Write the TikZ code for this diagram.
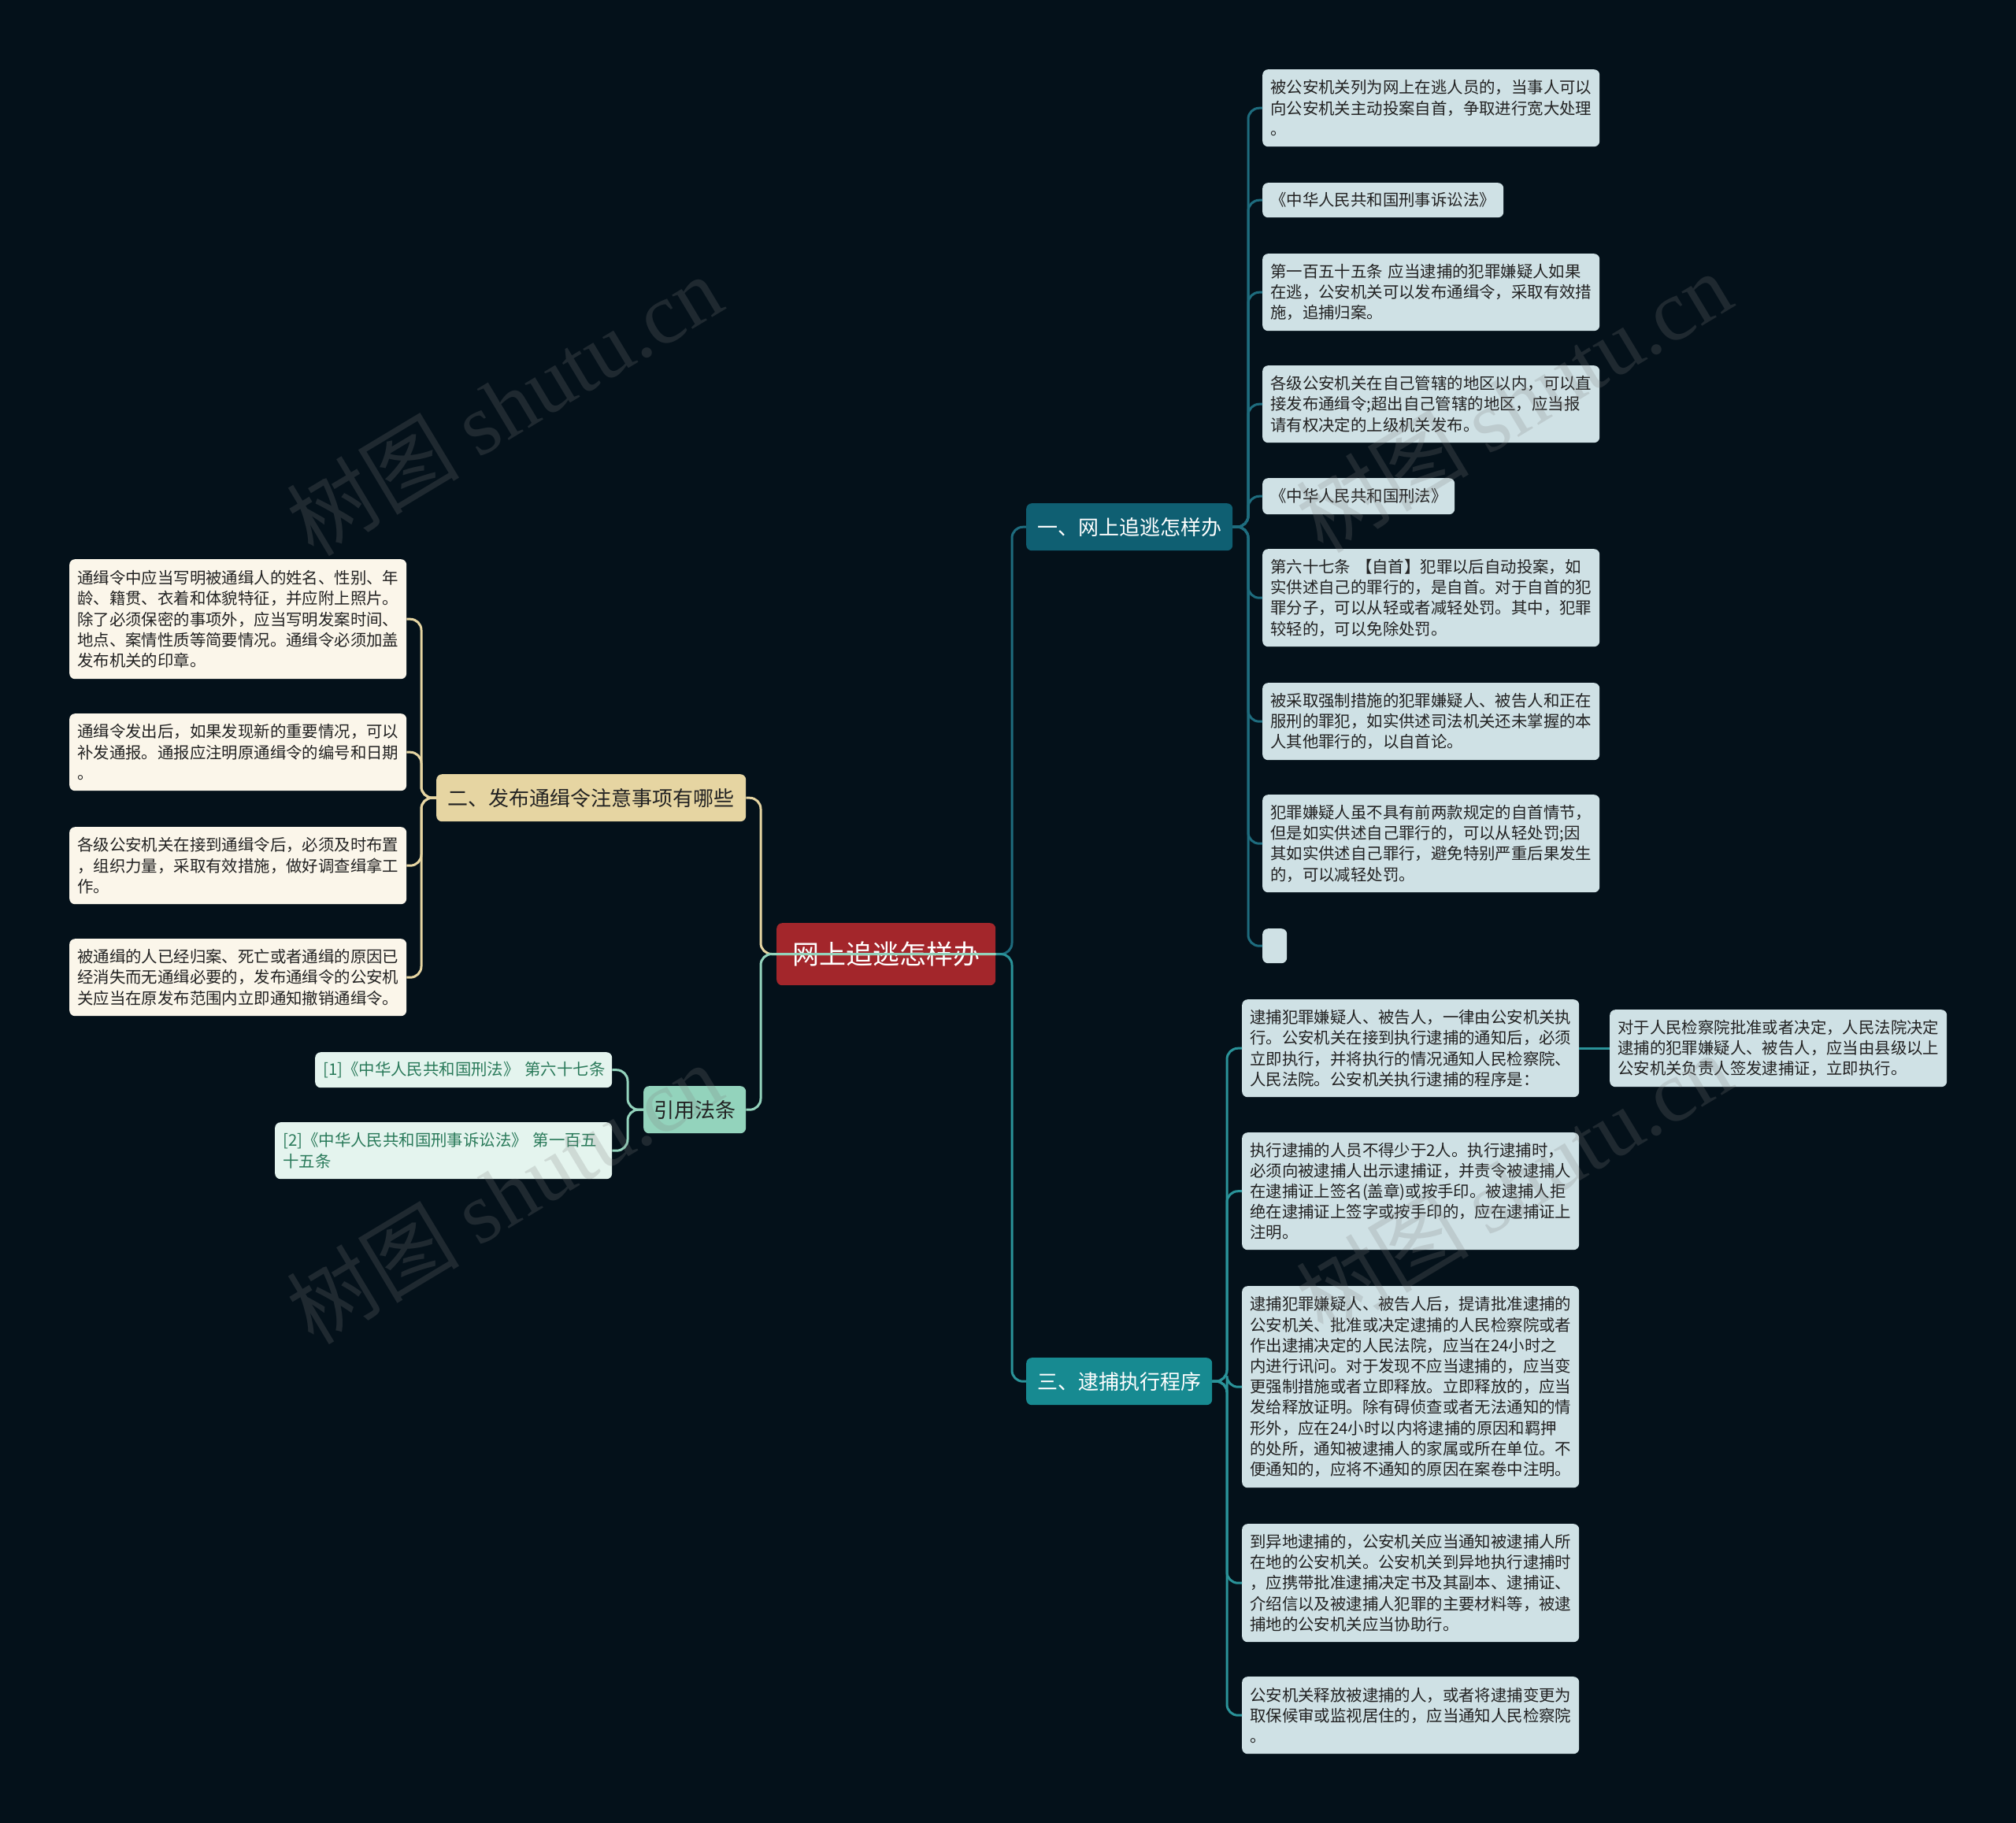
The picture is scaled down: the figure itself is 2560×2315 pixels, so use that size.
\documentclass[tikz,border=0pt]{standalone}
\usepackage{fontspec}
\setmainfont{Noto Sans CJK SC}
\newfontfamily\wmserif{Liberation Serif}
\definecolor{bg}{HTML}{04111A}
\definecolor{rootred}{HTML}{A3262B}
\definecolor{tealA}{HTML}{0F5F72}
\definecolor{tealAline}{HTML}{1E6C7E}
\definecolor{tealB}{HTML}{178A91}
\definecolor{tealBline}{HTML}{2A9399}
\definecolor{leafblue}{HTML}{CFE1E5}
\definecolor{tan}{HTML}{E6D5A2}
\definecolor{cream}{HTML}{FBF6EA}
\definecolor{mint}{HTML}{93D3BC}
\definecolor{mintleaf}{HTML}{E4F4EE}
\definecolor{minttext}{HTML}{2A7A5A}
\definecolor{darktext}{HTML}{222222}
\tikzset{
  box/.style={anchor=north west, rounded corners=7pt, inner ysep=0pt},
  leaf/.style={box, inner xsep=10pt, align=left, text=darktext,
    font=\fontsize{20.4}{26.2}\selectfont},
  leafR/.style={leaf, fill=leafblue},
  leafL/.style={leaf, fill=cream},
  leafM/.style={leaf, fill=mintleaf, text=minttext},
  branch/.style={box, inner xsep=0pt, font=\fontsize{26}{30}\selectfont, minimum height=60pt},
  con/.style={line width=3pt, rounded corners=14pt},
  wm/.style={font=\fontsize{110}{120}\selectfont, text=white!50!black, text opacity=0.22, rotate=31}
}
\begin{document}
\begin{tikzpicture}[x=1pt,y=-1pt]
\useasboundingbox (0,0) rectangle (2560,2315);
\fill[bg] (0,0) rectangle (2560,2315);

% root
\node[box, fill=rootred, text=white, font=\fontsize{34}{40}\selectfont, minimum width=278pt, minimum height=79pt, inner xsep=0pt] (root) at (986,1172) {网上追逃怎样办};

% branches
\node[branch, fill=tealA, text=white, minimum width=262pt] (B1) at (1303,639) {一、网上追逃怎样办};
\node[branch, fill=tealB, text=white, minimum width=236pt] (B3) at (1303,1724) {三、逮捕执行程序};
\node[branch, fill=tan, text=darktext, minimum width=393pt] (B2) at (554,983) {二、发布通缉令注意事项有哪些};
\node[branch, fill=mint, text=darktext, minimum width=130pt] (B4) at (817,1379) {引用法条};

% leaves of B1
\node[leafR, text width=408pt, minimum height=98pt] (L1) at (1603,88) {被公安机关列为网上在逃人员的，当事人可以\\向公安机关主动投案自首，争取进行宽大处理\\。};
\node[leafR, text width=286pt, minimum height=44pt] (L2) at (1603,232) {《中华人民共和国刑事诉讼法》};
\node[leafR, text width=408pt, minimum height=98pt] (L3) at (1603,322) {第一百五十五条~应当逮捕的犯罪嫌疑人如果\\在逃，公安机关可以发布通缉令，采取有效措\\施，追捕归案。};
\node[leafR, text width=408pt, minimum height=98pt] (L4) at (1603,464) {各级公安机关在自己管辖的地区以内，可以直\\接发布通缉令;超出自己管辖的地区，应当报\\请有权决定的上级机关发布。};
\node[leafR, text width=224pt, minimum height=46pt] (L5) at (1603,607) {《中华人民共和国刑法》};
\node[leafR, text width=408pt, minimum height=124pt] (L6) at (1603,697) {第六十七条~【自首】犯罪以后自动投案，如\\实供述自己的罪行的，是自首。对于自首的犯\\罪分子，可以从轻或者减轻处罚。其中，犯罪\\较轻的，可以免除处罚。};
\node[leafR, text width=408pt, minimum height=98pt] (L7) at (1603,867) {被采取强制措施的犯罪嫌疑人、被告人和正在\\服刑的罪犯，如实供述司法机关还未掌握的本\\人其他罪行的，以自首论。};
\node[leafR, text width=408pt, minimum height=124pt] (L8) at (1603,1009) {犯罪嫌疑人虽不具有前两款规定的自首情节，\\但是如实供述自己罪行的，可以从轻处罚;因\\其如实供述自己罪行，避免特别严重后果发生\\的，可以减轻处罚。};
\node[leafR, text width=11pt, minimum height=44pt] (L9) at (1603,1179) {};

% leaves of B3
\node[leafR, text width=408pt, minimum height=124pt] (T1) at (1577,1269) {逮捕犯罪嫌疑人、被告人，一律由公安机关执\\行。公安机关在接到执行逮捕的通知后，必须\\立即执行，并将执行的情况通知人民检察院、\\人民法院。公安机关执行逮捕的程序是：};
\node[leafR, text width=408pt, minimum height=98pt] (S1) at (2044,1282) {对于人民检察院批准或者决定，人民法院决定\\逮捕的犯罪嫌疑人、被告人，应当由县级以上\\公安机关负责人签发逮捕证，立即执行。};
\node[leafR, text width=408pt, minimum height=149pt] (T2) at (1577,1438) {执行逮捕的人员不得少于2人。执行逮捕时，\\必须向被逮捕人出示逮捕证，并责令被逮捕人\\在逮捕证上签名(盖章)或按手印。被逮捕人拒\\绝在逮捕证上签字或按手印的，应在逮捕证上\\注明。};
\node[leafR, text width=408pt, minimum height=256pt] (T3) at (1577,1633) {逮捕犯罪嫌疑人、被告人后，提请批准逮捕的\\公安机关、批准或决定逮捕的人民检察院或者\\作出逮捕决定的人民法院，应当在24小时之\\内进行讯问。对于发现不应当逮捕的，应当变\\更强制措施或者立即释放。立即释放的，应当\\发给释放证明。除有碍侦查或者无法通知的情\\形外，应在24小时以内将逮捕的原因和羁押\\的处所，通知被逮捕人的家属或所在单位。不\\便通知的，应将不通知的原因在案卷中注明。};
\node[leafR, text width=408pt, minimum height=150pt] (T4) at (1577,1935) {到异地逮捕的，公安机关应当通知被逮捕人所\\在地的公安机关。公安机关到异地执行逮捕时\\，应携带批准逮捕决定书及其副本、逮捕证、\\介绍信以及被逮捕人犯罪的主要材料等，被逮\\捕地的公安机关应当协助行。};
\node[leafR, text width=408pt, minimum height=98pt] (T5) at (1577,2129) {公安机关释放被逮捕的人，或者将逮捕变更为\\取保候审或监视居住的，应当通知人民检察院\\。};

% leaves of B2
\node[leafL, text width=408pt, minimum height=152pt] (E1) at (88,710) {通缉令中应当写明被通缉人的姓名、性别、年\\龄、籍贯、衣着和体貌特征，并应附上照片。\\除了必须保密的事项外，应当写明发案时间、\\地点、案情性质等简要情况。通缉令必须加盖\\发布机关的印章。};
\node[leafL, text width=408pt, minimum height=98pt] (E2) at (88,906) {通缉令发出后，如果发现新的重要情况，可以\\补发通报。通报应注明原通缉令的编号和日期\\。};
\node[leafL, text width=408pt, minimum height=98pt] (E3) at (88,1050) {各级公安机关在接到通缉令后，必须及时布置\\，组织力量，采取有效措施，做好调查缉拿工\\作。};
\node[leafL, text width=408pt, minimum height=98pt] (E4) at (88,1192) {被通缉的人已经归案、死亡或者通缉的原因已\\经消失而无通缉必要的，发布通缉令的公安机\\关应当在原发布范围内立即通知撤销通缉令。};

% leaves of B4
\node[leafM, text width=357pt, minimum height=45pt] (R1) at (400,1336) {[1]《中华人民共和国刑法》~第六十七条};
\node[leafM, text width=408pt, minimum height=72pt] (R2) at (349,1425) {[2]《中华人民共和国刑事诉讼法》~第一百五\\十五条};

% bus coordinates
\coordinate (rootR) at (1285,1211.5);
\coordinate (rootL) at (966,1211.5);
\coordinate (busB1) at (1585,669);
\coordinate (busB3) at (1558,1754);
\coordinate (busB2) at (535,1013);
\coordinate (busB4) at (797,1409);

% connectors: branch 1
\foreach \n in {L1,L2,L3,L4,L5,L6,L7,L8,L9}
  \draw[con, tealAline] (B1.east) -- (busB1) |- (\n.west);
% branch 3
\foreach \n in {T1,T2,T3,T4,T5}
  \draw[con, tealBline] (B3.east) -- (busB3) |- (\n.west);
\draw[con, tealBline] (T1.east) -- (S1.west);
% branch 2
\foreach \n in {E1,E2,E3,E4}
  \draw[con, tan] (B2.west) -- (busB2) |- (\n.east);
% branch 4
\foreach \n in {R1,R2}
  \draw[con, mint] (B4.west) -- (busB4) |- (\n.east);
% root connectors
\draw[con, tealAline] (root.east) -- (rootR) |- (B1.west);
\draw[con, tealBline] (root.east) -- (rootR) |- (B3.west);
\draw[con, tan] (root.east) -- (rootL) |- (B2.east);
\draw[con, mint] (root.east) -- (rootL) |- (B4.east);

% watermarks
\node[wm] (w1) at (640,514) {树图 {\wmserif shutu.cn}};
\node[wm] (w2) at (1922,510) {树图 {\wmserif shutu.cn}};
\node[wm] (w3) at (640,1515) {树图 {\wmserif shutu.cn}};
\node[wm] (w4) at (1922,1502) {树图 {\wmserif shutu.cn}};
\end{tikzpicture}
\end{document}
